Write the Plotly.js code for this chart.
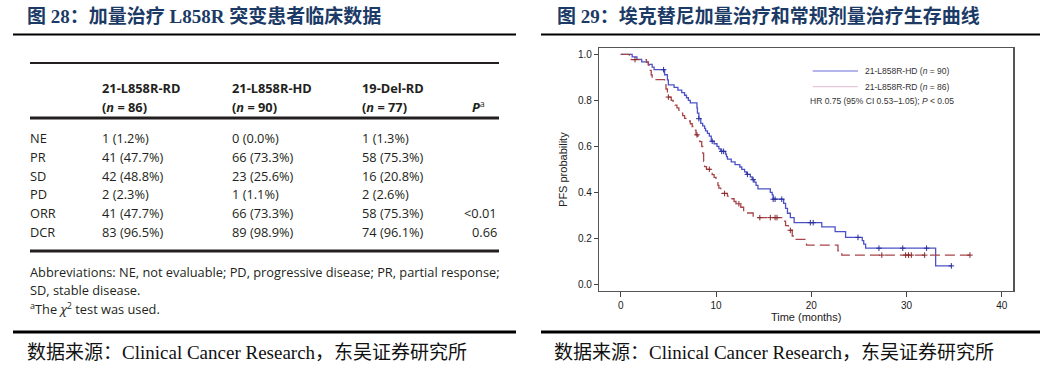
<!DOCTYPE html>
<html>
<head>
<meta charset="utf-8">
<script src="https://cdn.plot.ly/plotly-3.0.1.min.js"></script>
<style>html,body{margin:0;padding:0;background:#fff}#chart{width:1053px;height:372px}</style>
</head>
<body>
<div id="chart"></div>
<script>
// ---------- Table data (Figure 28) ----------
const tableGroups = ['21-L858R-RD', '21-L858R-HD', '19-Del-RD'];
const groupN = [86, 90, 77];
const responseLabels = ['NE', 'PR', 'SD', 'PD', 'ORR', 'DCR'];
const rdCounts = [1, 41, 42, 2, 41, 83];
const rdPct = [1.2, 47.7, 48.8, 2.3, 47.7, 96.5];
const hdCounts = [0, 66, 23, 1, 66, 89];
const hdPct = [0.0, 73.3, 25.6, 1.1, 73.3, 98.9];
const delCounts = [1, 58, 16, 2, 58, 74];
const delPct = [1.3, 75.3, 20.8, 2.6, 75.3, 96.1];
const pValues = ['', '', '', '', '<0.01', '0.66'];
const footnotes = [
  'Abbreviations: NE, not evaluable; PD, progressive disease; PR, partial response;',
  'SD, stable disease.',
  '<sup>a</sup>The <i>χ</i><sup>2</sup> test was used.'
];

// ---------- Kaplan-Meier data (Figure 29) ----------
const hdTime = [0, 1.2, 1.7, 2.2, 2.9, 3.3, 3.5, 4.6, 4.9, 5.0, 5.6, 6.0, 6.4, 6.7, 6.9, 7.1, 7.3, 8.0, 8.05, 8.2, 8.4, 8.6, 8.8, 8.9, 9.1, 9.3, 9.5, 9.8, 10.1, 10.3, 10.5, 11.0, 11.1, 11.2, 11.6, 12.0, 12.5, 12.7, 13.0, 13.2, 13.6, 13.8, 14.0, 14.2, 14.4, 15.7, 15.9, 16.0, 17.1, 17.3, 17.5, 17.8, 18.2, 21.1, 22.5, 23.6, 25.35, 25.5, 25.7, 33.05, 34.7];
const hdSurv = [1.0, 0.989, 0.978, 0.967, 0.956, 0.944, 0.933, 0.911, 0.889, 0.867, 0.856, 0.844, 0.833, 0.822, 0.811, 0.80, 0.789, 0.767, 0.744, 0.72, 0.70, 0.689, 0.678, 0.667, 0.656, 0.644, 0.622, 0.611, 0.60, 0.589, 0.578, 0.566, 0.555, 0.544, 0.532, 0.52, 0.51, 0.50, 0.489, 0.478, 0.467, 0.455, 0.444, 0.43, 0.415, 0.40, 0.389, 0.37, 0.352, 0.33, 0.309, 0.29, 0.268, 0.25, 0.229, 0.204, 0.19, 0.175, 0.157, 0.08, 0.08];
const hdCensor = [4.5, 8.2, 9.6, 10.6, 10.8, 13.3, 13.9, 16.0, 16.2, 16.9, 19.9, 20.2, 24.9, 27.1, 29.6, 32.1, 34.7];

const rdTime = [0, 0.9, 1.1, 2.7, 2.9, 3.1, 3.2, 3.3, 4.6, 4.75, 4.9, 5.0, 5.3, 5.5, 5.7, 5.9, 6.1, 6.3, 6.5, 6.7, 7.1, 7.3, 7.5, 7.7, 7.9, 8.1, 8.3, 8.5, 8.6, 8.7, 8.8, 9.0, 9.4, 9.6, 9.8, 10.0, 10.1, 10.2, 10.3, 10.5, 10.6, 11.2, 11.6, 11.9, 12.1, 12.6, 12.9, 13.2, 13.9, 17.0, 17.3, 17.6, 18.0, 18.1, 19.5, 22.8, 23.2, 36.65];
const rdSurv = [1.0, 0.988, 0.977, 0.965, 0.953, 0.93, 0.91, 0.89, 0.872, 0.849, 0.826, 0.814, 0.80, 0.791, 0.779, 0.767, 0.756, 0.744, 0.733, 0.721, 0.71, 0.698, 0.686, 0.67, 0.65, 0.64, 0.62, 0.60, 0.57, 0.535, 0.512, 0.50, 0.488, 0.477, 0.465, 0.453, 0.442, 0.43, 0.418, 0.407, 0.395, 0.383, 0.372, 0.36, 0.35, 0.335, 0.32, 0.31, 0.29, 0.275, 0.255, 0.235, 0.21, 0.195, 0.17, 0.145, 0.127, 0.127];
const rdCensor = [1.5, 5.0, 8.0, 9.3, 10.9, 12.4, 14.6, 15.7, 16.2, 16.4, 17.8, 27.4, 29.9, 30.2, 30.5, 31.9, 36.65];

const kmSeries = ['21-L858R-HD', '21-L858R-RD'];
const kmN = [90, 86];
const hrText = 'HR 0.75 (95% CI 0.53–1.05); <i>P</i> &lt; 0.05';
const xTicks = [0, 10, 20, 30, 40];
const yTicks = [0.0, 0.2, 0.4, 0.6, 0.8, 1.0];

// ---------- layout helpers ----------
const W = 1053, H = 372;
const px = x => x / W;
const py = y => 1 - y / H;

function survAt(T, S, t) {
  let v = S[0];
  for (let i = 0; i < T.length; i++) { if (T[i] <= t) v = S[i]; }
  return v;
}

const blue = '#4b52c8';
const red = '#a84548';

const traces = [
  { x: hdTime, y: hdSurv, type: 'scatter', mode: 'lines', line: { shape: 'hv', color: blue, width: 1.3 }, name: kmSeries[0], hoverinfo: 'x+y' },
  { x: rdTime, y: rdSurv, type: 'scatter', mode: 'lines', line: { shape: 'hv', color: red, width: 1.3, dash: '10px,5px' }, name: kmSeries[1], hoverinfo: 'x+y' },
  { x: hdCensor, y: hdCensor.map(t => survAt(hdTime, hdSurv, t)), type: 'scatter', mode: 'markers',
    marker: { symbol: 'cross-thin-open', size: 4, color: '#2a2f9a', line: { width: 1, color: '#2a2f9a' } }, hoverinfo: 'x+y' },
  { x: rdCensor, y: rdCensor.map(t => survAt(rdTime, rdSurv, t)), type: 'scatter', mode: 'markers',
    marker: { symbol: 'cross-thin-open', size: 4, color: '#8a2a2e', line: { width: 1, color: '#8a2a2e' } }, hoverinfo: 'x+y' }
];

const annotations = [];
const shapes = [];
const titleFont = { family: 'Liberation Serif, "Noto Sans CJK SC", serif', size: 19, color: '#1b3a66' };
const srcFont = { family: 'Liberation Serif, "Noto Sans CJK SC", serif', size: 19, color: '#111' };

// panel titles
annotations.push({ xref: 'paper', yref: 'paper', x: px(25), y: py(16), xanchor: 'left', yanchor: 'middle', showarrow: false,
  text: '<b>图 28：加量治疗 L858R 突变患者临床数据</b>', font: titleFont });
annotations.push({ xref: 'paper', yref: 'paper', x: px(555), y: py(16), xanchor: 'left', yanchor: 'middle', showarrow: false,
  text: '<b>图 29：埃克替尼加量治疗和常规剂量治疗生存曲线</b>', font: titleFont });
// sources
[25, 552].forEach(x => {
  annotations.push({ xref: 'paper', yref: 'paper', x: px(x), y: py(352), xanchor: 'left', yanchor: 'middle', showarrow: false,
    text: '数据来源：Clinical Cancer Research，东吴证券研究所', font: srcFont });
});
// panel rules
[[13, 516], [541, 1040]].forEach(([a, b]) => {
  shapes.push({ type: 'line', xref: 'paper', yref: 'paper', x0: px(a), x1: px(b), y0: py(34.5), y1: py(34.5), line: { color: '#000', width: 2 } });
  shapes.push({ type: 'line', xref: 'paper', yref: 'paper', x0: px(a), x1: px(b), y0: py(332), y1: py(332), line: { color: '#000', width: 3 } });
});

// ---------- table ----------
const tFont = { family: '"Open Sans", sans-serif', size: 12.8, color: '#231f20' };
const colX = [28, 100, 230, 360];
const pX = 499;
const headY = [88, 107];
const rowY0 = 138, rowStep = 18.8;
const fmt = (n, p) => `${n} (${p.toFixed(1)}%)`;

tableGroups.forEach((g, i) => {
  annotations.push({ xref: 'paper', yref: 'paper', x: px(colX[i + 1]), y: py(headY[0]), xanchor: 'left', yanchor: 'middle', showarrow: false,
    text: `<b>${g}</b>`, font: tFont });
  annotations.push({ xref: 'paper', yref: 'paper', x: px(colX[i + 1]), y: py(headY[1]), xanchor: 'left', yanchor: 'middle', showarrow: false,
    text: `<b>(<i>n</i> = ${groupN[i]})</b>`, font: tFont });
});
annotations.push({ xref: 'paper', yref: 'paper', x: px(487), y: py(headY[1]), xanchor: 'right', yanchor: 'middle', showarrow: false,
  text: '<b><i>P</i></b><sup>a</sup>', font: tFont });

const groupCells = [[rdCounts, rdPct], [hdCounts, hdPct], [delCounts, delPct]];
responseLabels.forEach((lab, r) => {
  const y = py(rowY0 + r * rowStep);
  annotations.push({ xref: 'paper', yref: 'paper', x: px(colX[0]), y, xanchor: 'left', yanchor: 'middle', showarrow: false, text: lab, font: tFont });
  groupCells.forEach(([c, p], i) => {
    annotations.push({ xref: 'paper', yref: 'paper', x: px(colX[i + 1]), y, xanchor: 'left', yanchor: 'middle', showarrow: false,
      text: fmt(c[r], p[r]), font: tFont });
  });
  if (pValues[r]) {
    annotations.push({ xref: 'paper', yref: 'paper', x: px(pX), y, xanchor: 'right', yanchor: 'middle', showarrow: false,
      text: pValues[r].replace('<', '&lt;'), font: tFont });
  }
});
footnotes.forEach((f, i) => {
  annotations.push({ xref: 'paper', yref: 'paper', x: px(colX[0]), y: py(272 + i * 18), xanchor: 'left', yanchor: 'middle', showarrow: false,
    text: f, font: tFont });
});
[[63, 2], [118, 3], [251, 3]].forEach(([y, w]) => {
  shapes.push({ type: 'line', xref: 'paper', yref: 'paper', x0: px(30), x1: px(499), y0: py(y), y1: py(y), line: { color: '#231f20', width: w } });
});

// ---------- KM legend ----------
const legColors = ['#6a6ddc', '#e8c8d8'];
const legY = [71, 86.7];
const kmFont = { family: 'Liberation Sans, Arial, sans-serif', size: 8.5, color: '#333' };
kmSeries.forEach((s, i) => {
  shapes.push({ type: 'line', xref: 'paper', yref: 'paper', x0: px(812.7), x1: px(858), y0: py(legY[i]), y1: py(legY[i]), line: { color: legColors[i], width: 1.2 } });
  annotations.push({ xref: 'paper', yref: 'paper', x: px(863), y: py(legY[i]), xanchor: 'left', yanchor: 'middle', showarrow: false,
    text: `${s} (<i>n</i> = ${kmN[i]})`, font: kmFont });
});
annotations.push({ xref: 'paper', yref: 'paper', x: px(808), y: py(101.3), xanchor: 'left', yanchor: 'middle', showarrow: false,
  text: hrText, font: kmFont });

const axFont = { family: 'Liberation Sans, Arial, sans-serif', size: 10, color: '#1a1a1a' };
const layout = {
  width: W, height: H,
  margin: { l: 0, r: 0, t: 0, b: 0 },
  paper_bgcolor: '#fff', plot_bgcolor: '#fff',
  showlegend: false,
  font: axFont,
  xaxis: {
    domain: [px(599), px(1013.3)], range: [-2.28, 41.2], tickvals: xTicks, ticks: 'outside', ticklen: 5, tickcolor: '#444',
    showline: true, linecolor: '#555', linewidth: 1.2, mirror: true, showgrid: false, zeroline: false, tickfont: axFont,
    title: { text: 'Time (months)', font: { family: 'Liberation Sans, Arial, sans-serif', size: 11, color: '#222' }, standoff: 1 }
  },
  yaxis: {
    domain: [py(291), py(48.3)], range: [-0.029, 1.026], tickvals: yTicks, tickformat: '.1f', ticks: 'outside', ticklen: 4, tickcolor: '#444',
    showline: true, linecolor: '#555', linewidth: 1.2, mirror: true, showgrid: false, zeroline: false, tickfont: axFont,
    title: { text: 'PFS probability', font: { family: 'Liberation Sans, Arial, sans-serif', size: 11, color: '#222' }, standoff: 8 }
  },
  annotations, shapes
};

Plotly.newPlot('chart', traces, layout, { staticPlot: true, displayModeBar: false });
</script>
</body>
</html>
